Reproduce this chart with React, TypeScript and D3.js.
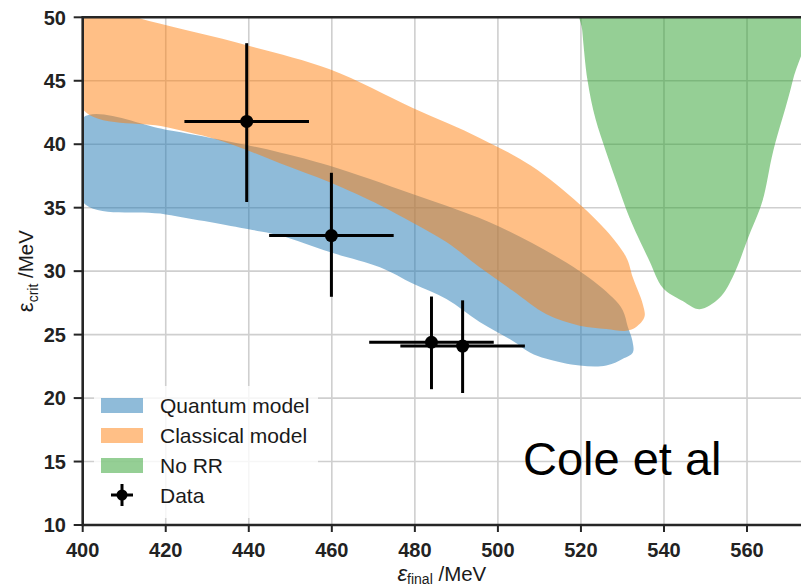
import React from "react";
import * as d3 from "d3";

// x ticks (MeV) and y ticks (MeV)
const xTicks = [400, 420, 440, 460, 480, 500, 520, 540, 560];
const yTicks = [10, 15, 20, 25, 30, 35, 40, 45, 50];

// Quantum model band: upper edge left->right, then lower edge right->left
const quantumUpper: [number, number][] = [
  [400, 42.07], [420, 41.15], [434, 40.3], [447.5, 39.35], [459.5, 38.3],
  [479.6, 36.05], [500.4, 33.5], [519.7, 30.0], [527.7, 27.9], [530.1, 26.9],
  [531.3, 25.6], [532.4, 24.5],
];
const quantumLower: [number, number][] = [
  [532.5, 23.6], [530.1, 23.1], [526.1, 22.56], [519.7, 22.56], [511.7, 23.1],
  [507.7, 23.6], [503.6, 24.5], [495.6, 26.0], [487.6, 27.8], [479.6, 29.0],
  [471.6, 30.3], [459.5, 31.5], [447.5, 32.8], [440, 33.3], [420, 34.47],
  [400, 35.44],
];

// Classical model band
const classicalUpper: [number, number][] = [
  [400, 51.0], [416, 49.7], [439.5, 47.8], [459.5, 45.9], [479.5, 42.85],
  [495.6, 40.5], [508, 38.3], [519.6, 35.3], [526.1, 33.2], [530.9, 31.1],
  [532.5, 29.5], [534.9, 27.4], [535.3, 26.4], [533.3, 25.6],
];
const classicalLower: [number, number][] = [
  [530.9, 25.3], [526.1, 25.44], [519.7, 25.7], [511.7, 26.6], [503.6, 28.45],
  [495.6, 30.3], [487.6, 32.3], [479.6, 33.8], [471.6, 35.2], [459.5, 37.0],
  [447.5, 38.5], [434, 40.2], [420, 41.35], [400, 42.75],
];

// No RR band: left edge top->bottom, right edge bottom->top
const noRRLeft: [number, number][] = [
  [519.8, 51], [520.3, 49], [521.6, 45], [523.5, 42], [526, 39.45],
  [528.8, 36.8], [531.7, 34.2], [536.5, 30.8], [539.7, 28.7], [544.5, 27.65],
  [548.6, 27.0],
];
const noRRRight: [number, number][] = [
  [553.4, 27.9], [556.5, 29.5], [560.6, 32.9], [563.7, 35.5], [566.3, 39.45],
  [571, 45], [574.5, 51],
];

// measured points
const dataX = [439.5, 459.9, 484, 491.5];
const dataY = [41.8, 32.8, 24.4, 24.1];
const dataXErr = [15, 15, 15, 15];
const dataYLow = [35.45, 27.98, 20.7, 20.4];
const dataYHigh = [47.96, 37.75, 28.0, 27.7];

const legendItems = [
  { label: "Quantum model", color: "#1f77b4" },
  { label: "Classical model", color: "#ff7f0e" },
  { label: "No RR", color: "#2ca02c" },
];

const FONT = '"Liberation Sans", Arial, sans-serif';

export default function App() {
  const width = 801;
  const height = 586;

  const x = d3.scaleLinear().domain([400, 573]).range([82.7, 801]);
  const y = d3.scaleLinear().domain([10, 50]).range([525, 17.3]);

  const line = d3
    .line<[number, number]>()
    .x((d) => x(d[0]))
    .y((d) => y(d[1]))
    .curve(d3.curveCatmullRomClosed.alpha(0.5));

  const bands = [
    { pts: [...quantumUpper, ...quantumLower], color: "#1f77b4" },
    { pts: [...classicalUpper, ...classicalLower], color: "#ff7f0e" },
    { pts: [...noRRLeft, ...noRRRight], color: "#2ca02c" },
  ];

  const x0 = x(400);
  const yTop = y(50);
  const yBot = y(10);
  const spine = "#262626";

  return (
    <svg
      width={width}
      height={height}
      style={{ position: "absolute", left: 0, top: 0, background: "#fff" }}
      fontFamily={FONT}
    >
      <defs>
        <clipPath id="plot">
          <rect x={x0} y={yTop} width={width - x0} height={yBot - yTop} />
        </clipPath>
      </defs>

      {/* grid */}
      <g stroke="#cfcfcf" strokeWidth={1.6}>
        {xTicks.slice(1).map((t) => (
          <line key={"gx" + t} x1={x(t)} x2={x(t)} y1={yTop} y2={yBot} />
        ))}
        {yTicks.slice(1, -1).map((t) => (
          <line key={"gy" + t} x1={x0} x2={width} y1={y(t)} y2={y(t)} />
        ))}
      </g>

      {/* bands */}
      <g clipPath="url(#plot)">
        {bands.map((b, i) => (
          <path key={i} d={line(b.pts) || ""} fill={b.color} fillOpacity={0.5} />
        ))}
      </g>

      {/* error bars */}
      <g stroke="#000" strokeWidth={3}>
        {dataX.map((dx, i) => (
          <g key={i}>
            <line x1={x(dx - dataXErr[i])} x2={x(dx + dataXErr[i])} y1={y(dataY[i])} y2={y(dataY[i])} />
            <line x1={x(dx)} x2={x(dx)} y1={y(dataYLow[i])} y2={y(dataYHigh[i])} />
          </g>
        ))}
      </g>
      {dataX.map((dx, i) => (
        <circle key={i} cx={x(dx)} cy={y(dataY[i])} r={6.5} fill="#000" />
      ))}

      {/* spines */}
      <g stroke={spine} strokeWidth={2.6}>
        <line x1={x0} x2={x0} y1={yTop - 1.3} y2={yBot + 1.3} />
        <line x1={x0} x2={width} y1={yBot} y2={yBot} />
        <line x1={x0} x2={width} y1={yTop} y2={yTop} />
      </g>

      {/* ticks */}
      <g stroke={spine} strokeWidth={2}>
        {xTicks.map((t) => (
          <line key={"tx" + t} x1={x(t)} x2={x(t)} y1={yBot} y2={yBot + 7} />
        ))}
        {yTicks.map((t) => (
          <line key={"ty" + t} x1={x0 - 9} x2={x0} y1={y(t)} y2={y(t)} />
        ))}
      </g>
      <g fontSize={20} fontWeight="bold" fill="#222">
        {xTicks.map((t) => (
          <text key={"lx" + t} x={x(t)} y={557} textAnchor="middle">
            {t}
          </text>
        ))}
        {yTicks.map((t) => (
          <text key={"ly" + t} x={66} y={y(t)} dy="0.36em" textAnchor="end">
            {t}
          </text>
        ))}
      </g>

      {/* axis labels */}
      <text x={(x0 + width) / 2} y={581} textAnchor="middle" fontSize={20.5} fill="#1a1a1a">
        <tspan fontStyle="italic" fontSize={22}>ε</tspan>
        <tspan fontSize={14} dy={3}>final</tspan>
        <tspan dy={-3}> /MeV</tspan>
      </text>
      <text
        transform={`translate(33,${(yTop + yBot) / 2}) rotate(-90)`}
        textAnchor="middle"
        fontSize={20.5}
        fill="#1a1a1a"
      >
        <tspan fontSize={22}>ε</tspan>
        <tspan fontSize={14} dy={5}>crit</tspan>
        <tspan dy={-5}> /MeV</tspan>
      </text>

      {/* legend */}
      <rect x={94} y={386} width={224} height={132} rx={4} fill="#fff" fillOpacity={0.8} />
      <g fontSize={21} fill="#1a1a1a">
        {legendItems.map((it, i) => (
          <g key={it.label} transform={`translate(0,${413 + i * 30})`}>
            <rect x={101} y={-15} width={42} height={15} fill={it.color} fillOpacity={0.5} />
            <text x={160} y={0}>{it.label}</text>
          </g>
        ))}
        <g transform="translate(0,503)" stroke="#000" strokeWidth={3}>
          <line x1={111} x2={133} y1={-8} y2={-8} />
          <line x1={122} x2={122} y1={-19} y2={3} />
          <circle cx={122} cy={-8} r={5.5} fill="#000" stroke="none" />
        </g>
        <text x={160} y={503}>Data</text>
      </g>

      <text x={523} y={475} fontSize={47} fill="#000">
        Cole et al
      </text>
    </svg>
  );
}
